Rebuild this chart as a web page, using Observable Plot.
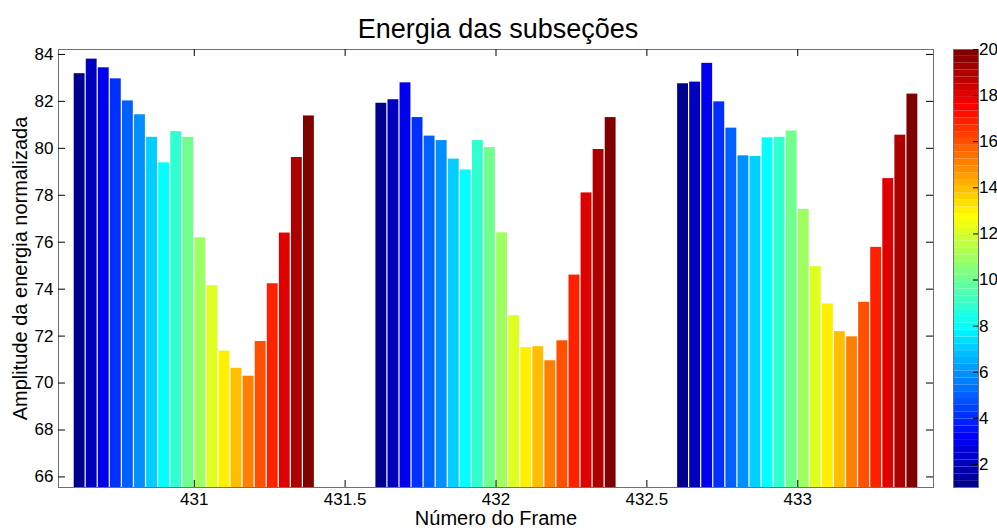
<!DOCTYPE html>
<html>
<head>
<meta charset="utf-8">
<script src="https://cdn.jsdelivr.net/npm/d3@7"></script>
<script src="https://cdn.jsdelivr.net/npm/@observablehq/plot@0.6"></script>
<style>
  html, body { margin: 0; padding: 0; background: #fff; }
  #wrap { position: relative; width: 997px; height: 530px; overflow: hidden; }
  #wrap svg { position: absolute; top: 0; overflow: visible; }
</style>
</head>
<body>
<div id="wrap"></div>
<script>
// ---- data ----
const frames = [431, 432, 433];
const subsections = [1,2,3,4,5,6,7,8,9,10,11,12,13,14,15,16,17,18,19,20];
const energy431 = [83.18, 83.80, 83.43, 82.96, 82.02, 81.43, 80.47, 79.38, 80.71, 80.47, 76.19, 74.15, 71.36, 70.63, 70.29, 71.77, 74.23, 76.39, 79.61, 81.38];
const energy432 = [81.92, 82.07, 82.79, 81.31, 80.52, 80.33, 79.54, 79.08, 80.33, 80.03, 76.40, 72.87, 71.51, 71.55, 70.95, 71.80, 74.60, 78.10, 79.95, 81.31];
const energy433 = [82.75, 82.82, 83.62, 81.98, 80.86, 79.68, 79.65, 80.45, 80.47, 80.74, 77.40, 74.96, 73.37, 72.19, 71.97, 73.44, 75.78, 78.71, 80.56, 82.31];
const xTickValues = [431, 431.5, 432, 432.5, 433];
const yTickValues = [66, 68, 70, 72, 74, 76, 78, 80, 82, 84];
const cbTickValues = [2, 4, 6, 8, 10, 12, 14, 16, 18, 20];

const titleText = "Energia das subseções";
const xLabelText = "Número do Frame";
const yLabelText = "Amplitude da energia normalizada";

// ---- jet colormap (64 levels), mapped over subsection range [1, 20] ----
const nLevels = 64, cMin = 1, cMax = 20;
const clamp = v => Math.max(0, Math.min(1, v));
const jetColors = d3.range(1, nLevels + 1).map(k => {
  const t4 = 4 * k / nLevels;
  const r = clamp(Math.min(t4 - 1.5, -t4 + 4.5));
  const g = clamp(Math.min(t4 - 0.5, -t4 + 3.5));
  const b = clamp(Math.min(t4 + 0.5, -t4 + 2.5));
  return d3.rgb(r * 255, g * 255, b * 255).formatHex();
});
const thresholds = d3.range(1, nLevels).map(j => cMin + j * (cMax - cMin) / nLevels);
const colorScale = {type: "threshold", domain: thresholds, range: jetColors};

// ---- table ----
const series = [energy431, energy432, energy433];
const groupWidth = 0.8;
const barSlot = groupWidth / subsections.length;
const rows = [];
frames.forEach((f, fi) => {
  subsections.forEach((s, si) => {
    const x1 = f - groupWidth / 2 + si * barSlot;
    rows.push({frame: f, sub: s, x1, x2: x1 + barSlot, value: series[fi][si]});
  });
});

const font = "'Liberation Sans', Arial, Helvetica, sans-serif";
const H = 530;
const mainW = 945, mL = 58, mR = 12, mT = 49, mB = 43;
const innerW = mainW - mL - mR, innerH = H - mT - mB;
const tickLen = 7;

const main = Plot.plot({
  width: mainW, height: H,
  marginLeft: mL, marginRight: mR, marginTop: mT, marginBottom: mB,
  style: {fontFamily: font, color: "#000", background: "transparent"},
  x: {domain: [430.55, 433.45], axis: null},
  y: {domain: [65.55, 84.21], axis: null},
  color: colorScale,
  marks: [
    Plot.rectY(rows, {x1: "x1", x2: "x2", y1: 0, y2: "value", fill: "sub", insetLeft: 0.6, insetRight: 0.6, clip: true}),
    Plot.frame({stroke: "#707070", strokeWidth: 1}),
    // inward tick marks (bottom/top, left/right)
    Plot.tickX(xTickValues, {x: d => d, insetTop: innerH - tickLen, stroke: "#000"}),
    Plot.tickX(xTickValues, {x: d => d, insetBottom: innerH - tickLen, stroke: "#000"}),
    Plot.tickY(yTickValues, {y: d => d, insetRight: innerW - tickLen, stroke: "#000"}),
    Plot.tickY(yTickValues, {y: d => d, insetLeft: innerW - tickLen, stroke: "#000"}),
    Plot.axisX(xTickValues, {anchor: "bottom", tickSize: 0, tickPadding: 5, fontSize: 17, tickFormat: d => String(d), label: null}),
    Plot.axisY(yTickValues, {anchor: "left", tickSize: 0, tickPadding: 5, fontSize: 17, tickFormat: d => String(d), label: null}),
    Plot.text([titleText], {text: d => d, frameAnchor: "top", dy: -12, dx: 2, textAnchor: "middle", lineAnchor: "bottom", fontSize: 27, fill: "#000"}),
    Plot.text([xLabelText], {text: d => d, frameAnchor: "bottom", dy: 31, textAnchor: "middle", lineAnchor: "middle", fontSize: 20, fill: "#000"}),
    Plot.text([yLabelText], {text: d => d, frameAnchor: "left", dx: -38, rotate: -90, textAnchor: "middle", lineAnchor: "middle", fontSize: 20, fill: "#000"})
  ]
});

// ---- colorbar ----
const cbW = 52, cbL = 8, cbR = 19, cbBarW = cbW - cbL - cbR;
const levels = d3.range(nLevels).map(j => ({
  y1: cMin + j * (cMax - cMin) / nLevels,
  y2: cMin + (j + 1) * (cMax - cMin) / nLevels,
  mid: cMin + (j + 0.5) * (cMax - cMin) / nLevels
}));
const cbar = Plot.plot({
  width: cbW, height: H,
  marginLeft: cbL, marginRight: cbR, marginTop: mT, marginBottom: mB,
  style: {fontFamily: font, color: "#000", background: "transparent", overflow: "visible"},
  x: {domain: [0, 1], axis: null},
  y: {domain: [cMin, cMax], axis: null},
  color: colorScale,
  marks: [
    Plot.rect(levels, {x1: 0, x2: 1, y1: "y1", y2: "y2", fill: "mid"}),
    Plot.frame({stroke: "#707070", strokeWidth: 1}),
    Plot.tickY(cbTickValues, {y: d => d, insetLeft: cbBarW - 5, stroke: "#000"}),
    Plot.text(cbTickValues, {y: d => d, text: d => String(d), frameAnchor: "right", textAnchor: "start", lineAnchor: "middle", dx: 0.5, fontSize: 17, fill: "#000"})
  ]
});

const wrap = document.getElementById("wrap");
main.style.left = "0px";
cbar.style.left = mainW + "px";
wrap.appendChild(main);
wrap.appendChild(cbar);
</script>
</body>
</html>
